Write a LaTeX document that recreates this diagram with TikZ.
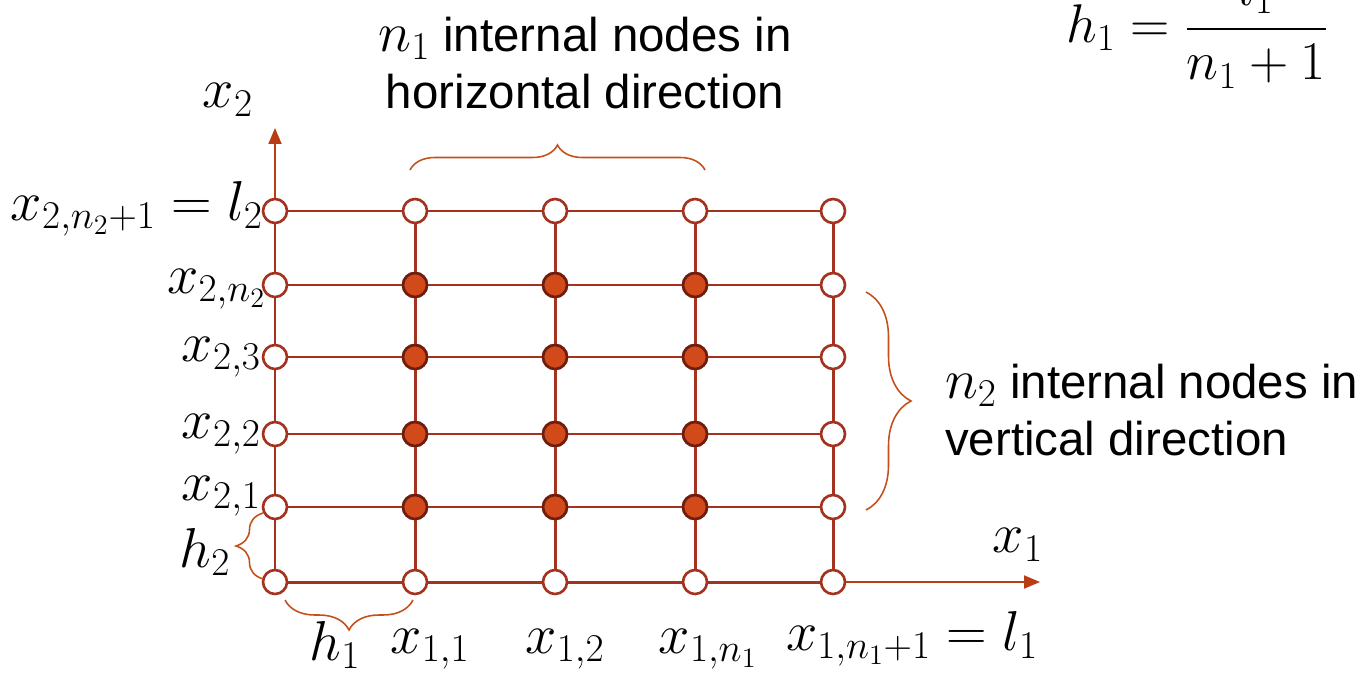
\RequirePackage{fix-cm}
\documentclass[tikz,border=0pt]{standalone}
\usepackage{fontspec}
\setmainfont{Liberation Sans}
\usepackage{amsmath}
\usetikzlibrary{arrows.meta,decorations.pathreplacing,positioning}
\definecolor{gridred}{HTML}{A3321F}
\definecolor{nodefill}{HTML}{D2491A}
\definecolor{nodedark}{HTML}{6E1E0E}
\definecolor{axisred}{HTML}{B83D12}
\definecolor{bracered}{HTML}{C4501C}
\newcommand{\bigsym}[1]{{\fontsize{32}{32.5}\selectfont$#1$}}
\tikzset{
  opennode/.style={circle,draw=gridred,fill=white,line width=1.5pt,minimum size=0.48cm,inner sep=0pt},
  fullnode/.style={circle,draw=nodedark,fill=nodefill,line width=1.5pt,minimum size=0.48cm,inner sep=0pt},
  gridline/.style={gridred,line width=1.7pt},
  axisline/.style={axisred,line width=1.1pt,-{Triangle[length=0.32cm,width=0.26cm]}},
  bracepath/.style={bracered,line width=0.9pt,decorate,decoration={brace,amplitude=#1}},
  lbl/.style={font=\fontsize{27}{32.5}\selectfont,inner sep=1pt},
  mlbl/.style={font=\fontsize{32}{37}\selectfont,inner sep=1pt},
}

\begin{document}
\begin{tikzpicture}[x=0.02cm,y=0.02cm]
  \path[use as bounding box,clip] (0,0) rectangle (1364,677);
  % grid nodes: open on the boundary, filled inside
  \foreach \x [count=\i from 0] in {275,415,555,695,833}
    \foreach \y [count=\j from 0] in {95,170,243,320,392,466}
      \node[opennode] (g\i\j) at (\x,\y) {};
  \foreach \i in {1,2,3} \foreach \j in {1,...,4}
    \node[fullnode] (f\i\j) at (g\i\j) {};
  \foreach \j in {0,...,5} \foreach \i/\k in {0/1,1/2,2/3,3/4}
    \draw[gridline] (g\i\j) -- (g\k\j);
  \foreach \i in {0,...,4} \foreach \j/\k in {0/1,1/2,2/3,3/4,4/5}
    \draw[gridline] (g\i\j) -- (g\i\k);
  % axes
  \coordinate (ytip) at (275,549); \coordinate (xtip) at (1040,95);
  \draw[axisline] (g05) -- (ytip); \draw[axisline] (g40) -- (xtip);
  \node[mlbl] (x2lab) at (228,577) {$x_2$};
  \node[mlbl] (x1lab) at (1018,132) {$x_1$};
  % row labels
  \node[mlbl,anchor=east] (r5) at (265,468) {$x_{2,n_2+1}=l_2$};
  \node[mlbl,anchor=east] (r4) at (268,388) {$x_{2,n_2}$};
  \node[mlbl,anchor=east] (r3) at (263,320) {$x_{2,3}$};
  \node[mlbl,anchor=east] (r2) at (263,243) {$x_{2,2}$};
  \node[mlbl,anchor=east] (r1) at (263,181) {$x_{2,1}$};
  % column labels
  \node[mlbl] (c1) at (430,28) {$x_{1,1}$};
  \node[mlbl] (c2) at (565,28) {$x_{1,2}$};
  \node[mlbl] (c3) at (708,28) {$x_{1,n_1}$};
  \node[mlbl] (c4) at (912,38) {$x_{1,n_1+1}=l_1$};
  % braces
  \coordinate (tb1) at (410,507); \coordinate (tb2) at (705,507);
  \draw[bracepath=0.5cm] (tb1) -- (tb2);
  \node[lbl,align=center] (toptext) at (585,614) {\bigsym{n_1} internal nodes in\\horizontal direction};
  \coordinate (rb1) at (866,385); \coordinate (rb2) at (866,167);
  \draw[bracepath=0.9cm] (rb1) -- (rb2);
  \node[lbl,align=left,anchor=west] (righttext) at (943,267) {\bigsym{n_2} internal nodes in\\vertical direction};
  \coordinate (hb1) at (263,98); \coordinate (hb2) at (263,164);
  \draw[bracepath=0.54cm] (hb1) -- (hb2);
  \node[mlbl] (h2lab) at (205,125) {$h_2$};
  \coordinate (wb1) at (413,77); \coordinate (wb2) at (285,77);
  \draw[bracepath=0.6cm] (wb1) -- (wb2);
  \node[mlbl] (h1lab) at (335,32) {$h_1$};
  % step size formula
  \node[font=\fontsize{31}{36}\selectfont] (hform) at (1197,649) {$\displaystyle h_1=\frac{l_1}{n_1+1}$};
\end{tikzpicture}
\end{document}
